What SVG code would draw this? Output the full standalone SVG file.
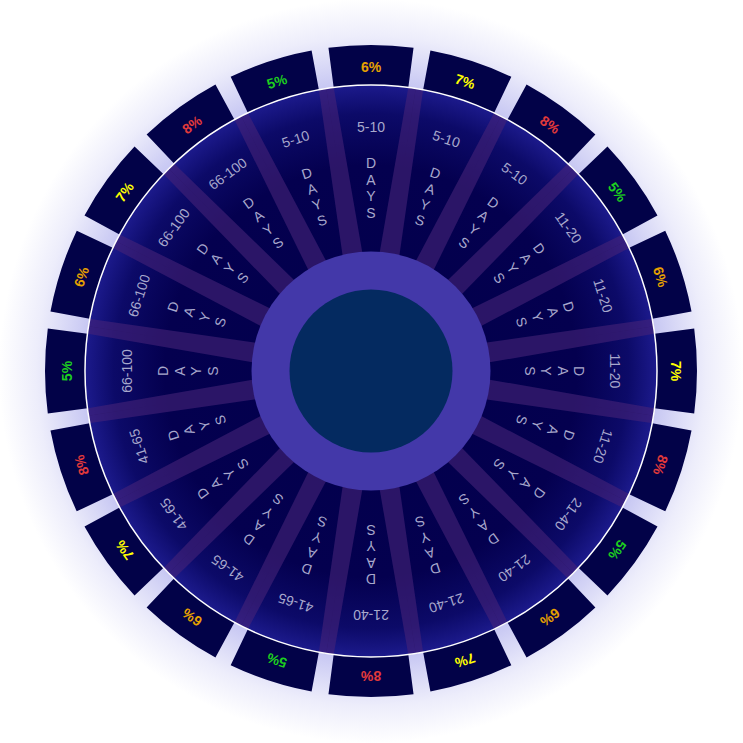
<svg xmlns="http://www.w3.org/2000/svg" width="743" height="743" viewBox="0 0 743 743">
<defs>
<radialGradient id="glow" cx="371" cy="371" r="372" gradientUnits="userSpaceOnUse">
<stop offset="0" stop-color="#b8b8f0"/>
<stop offset="0.76" stop-color="#c4c4f2"/>
<stop offset="0.82" stop-color="#d6d6f6"/>
<stop offset="0.9" stop-color="#ededfb"/>
<stop offset="1" stop-color="#ffffff"/>
</radialGradient>
<radialGradient id="wg" cx="371" cy="371" r="286" gradientUnits="userSpaceOnUse">
<stop offset="0" stop-color="#02004c"/>
<stop offset="0.72" stop-color="#04004f"/>
<stop offset="0.9" stop-color="#0c0a68"/>
<stop offset="1" stop-color="#1c1a8c"/>
</radialGradient>
<clipPath id="wheelClip"><circle cx="371" cy="371" r="286"/></clipPath>
<path id="tab" d="M328.45,47.8 A326,326 0 0 1 413.55,47.8 L407.8,91.4 A282,282 0 0 0 334.2,91.4 Z"/>
<path id="wedge" d="M371,371 L326.26,88.52 A286,286 0 0 1 415.74,88.52 Z"/>
<polygon id="stripe" points="361,254 381,254 378.5,84 363.5,84"/>
</defs>
<style>
.tab{fill:#020248}
.seg{fill:url(#wg)}
.stripe{fill:rgb(70,35,120);fill-opacity:0.6}
.lbl{font-family:"Liberation Sans",Arial,sans-serif;font-size:14px;fill:#a8a8cc;text-anchor:middle}
.pct{font-family:"Liberation Sans",Arial,sans-serif;font-size:14px;font-weight:bold;text-anchor:middle}
.p5{fill:#1ecf1e}.p6{fill:#e6a100}.p7{fill:#ffff00}.p8{fill:#e23a3a}
</style>
<rect width="743" height="743" fill="#ffffff"/>
<circle cx="371" cy="371" r="372" fill="url(#glow)"/>

<g id="tabs">
<g id="tab0" transform="rotate(0 371 371)"><use href="#tab" class="tab"/><text class="pct p6" x="371" y="71.5">6%</text></g>
<g id="tab1" transform="rotate(18 371 371)"><use href="#tab" class="tab"/><text class="pct p7" x="371" y="71.5">7%</text></g>
<g id="tab2" transform="rotate(36 371 371)"><use href="#tab" class="tab"/><text class="pct p8" x="371" y="71.5">8%</text></g>
<g id="tab3" transform="rotate(54 371 371)"><use href="#tab" class="tab"/><text class="pct p5" x="371" y="71.5">5%</text></g>
<g id="tab4" transform="rotate(72 371 371)"><use href="#tab" class="tab"/><text class="pct p6" x="371" y="71.5">6%</text></g>
<g id="tab5" transform="rotate(90 371 371)"><use href="#tab" class="tab"/><text class="pct p7" x="371" y="71.5">7%</text></g>
<g id="tab6" transform="rotate(108 371 371)"><use href="#tab" class="tab"/><text class="pct p8" x="371" y="71.5">8%</text></g>
<g id="tab7" transform="rotate(126 371 371)"><use href="#tab" class="tab"/><text class="pct p5" x="371" y="71.5">5%</text></g>
<g id="tab8" transform="rotate(144 371 371)"><use href="#tab" class="tab"/><text class="pct p6" x="371" y="71.5">6%</text></g>
<g id="tab9" transform="rotate(162 371 371)"><use href="#tab" class="tab"/><text class="pct p7" x="371" y="71.5">7%</text></g>
<g id="tab10" transform="rotate(180 371 371)"><use href="#tab" class="tab"/><text class="pct p8" x="371" y="71.5">8%</text></g>
<g id="tab11" transform="rotate(198 371 371)"><use href="#tab" class="tab"/><text class="pct p5" x="371" y="71.5">5%</text></g>
<g id="tab12" transform="rotate(216 371 371)"><use href="#tab" class="tab"/><text class="pct p6" x="371" y="71.5">6%</text></g>
<g id="tab13" transform="rotate(234 371 371)"><use href="#tab" class="tab"/><text class="pct p7" x="371" y="71.5">7%</text></g>
<g id="tab14" transform="rotate(252 371 371)"><use href="#tab" class="tab"/><text class="pct p8" x="371" y="71.5">8%</text></g>
<g id="tab15" transform="rotate(270 371 371)"><use href="#tab" class="tab"/><text class="pct p5" x="371" y="71.5">5%</text></g>
<g id="tab16" transform="rotate(288 371 371)"><use href="#tab" class="tab"/><text class="pct p6" x="371" y="71.5">6%</text></g>
<g id="tab17" transform="rotate(306 371 371)"><use href="#tab" class="tab"/><text class="pct p7" x="371" y="71.5">7%</text></g>
<g id="tab18" transform="rotate(324 371 371)"><use href="#tab" class="tab"/><text class="pct p8" x="371" y="71.5">8%</text></g>
<g id="tab19" transform="rotate(342 371 371)"><use href="#tab" class="tab"/><text class="pct p5" x="371" y="71.5">5%</text></g>
</g>

<circle cx="371" cy="371" r="286" fill="#04004f"/>

<g id="segments">
<g id="seg0" transform="rotate(0 371 371)"><use href="#wedge" class="seg"/><text class="lbl" x="371" y="132">5-10</text><text class="lbl" x="371" y="168">D</text><text class="lbl" x="371" y="184.5">A</text><text class="lbl" x="371" y="201">Y</text><text class="lbl" x="371" y="217.5">S</text></g>
<g id="seg1" transform="rotate(18 371 371)"><use href="#wedge" class="seg"/><text class="lbl" x="371" y="132">5-10</text><text class="lbl" x="371" y="168">D</text><text class="lbl" x="371" y="184.5">A</text><text class="lbl" x="371" y="201">Y</text><text class="lbl" x="371" y="217.5">S</text></g>
<g id="seg2" transform="rotate(36 371 371)"><use href="#wedge" class="seg"/><text class="lbl" x="371" y="132">5-10</text><text class="lbl" x="371" y="168">D</text><text class="lbl" x="371" y="184.5">A</text><text class="lbl" x="371" y="201">Y</text><text class="lbl" x="371" y="217.5">S</text></g>
<g id="seg3" transform="rotate(54 371 371)"><use href="#wedge" class="seg"/><text class="lbl" x="371" y="132">11-20</text><text class="lbl" x="371" y="168">D</text><text class="lbl" x="371" y="184.5">A</text><text class="lbl" x="371" y="201">Y</text><text class="lbl" x="371" y="217.5">S</text></g>
<g id="seg4" transform="rotate(72 371 371)"><use href="#wedge" class="seg"/><text class="lbl" x="371" y="132">11-20</text><text class="lbl" x="371" y="168">D</text><text class="lbl" x="371" y="184.5">A</text><text class="lbl" x="371" y="201">Y</text><text class="lbl" x="371" y="217.5">S</text></g>
<g id="seg5" transform="rotate(90 371 371)"><use href="#wedge" class="seg"/><text class="lbl" x="371" y="132">11-20</text><text class="lbl" x="371" y="168">D</text><text class="lbl" x="371" y="184.5">A</text><text class="lbl" x="371" y="201">Y</text><text class="lbl" x="371" y="217.5">S</text></g>
<g id="seg6" transform="rotate(108 371 371)"><use href="#wedge" class="seg"/><text class="lbl" x="371" y="132">11-20</text><text class="lbl" x="371" y="168">D</text><text class="lbl" x="371" y="184.5">A</text><text class="lbl" x="371" y="201">Y</text><text class="lbl" x="371" y="217.5">S</text></g>
<g id="seg7" transform="rotate(126 371 371)"><use href="#wedge" class="seg"/><text class="lbl" x="371" y="132">21-40</text><text class="lbl" x="371" y="168">D</text><text class="lbl" x="371" y="184.5">A</text><text class="lbl" x="371" y="201">Y</text><text class="lbl" x="371" y="217.5">S</text></g>
<g id="seg8" transform="rotate(144 371 371)"><use href="#wedge" class="seg"/><text class="lbl" x="371" y="132">21-40</text><text class="lbl" x="371" y="168">D</text><text class="lbl" x="371" y="184.5">A</text><text class="lbl" x="371" y="201">Y</text><text class="lbl" x="371" y="217.5">S</text></g>
<g id="seg9" transform="rotate(162 371 371)"><use href="#wedge" class="seg"/><text class="lbl" x="371" y="132">21-40</text><text class="lbl" x="371" y="168">D</text><text class="lbl" x="371" y="184.5">A</text><text class="lbl" x="371" y="201">Y</text><text class="lbl" x="371" y="217.5">S</text></g>
<g id="seg10" transform="rotate(180 371 371)"><use href="#wedge" class="seg"/><text class="lbl" x="371" y="132">21-40</text><text class="lbl" x="371" y="168">D</text><text class="lbl" x="371" y="184.5">A</text><text class="lbl" x="371" y="201">Y</text><text class="lbl" x="371" y="217.5">S</text></g>
<g id="seg11" transform="rotate(198 371 371)"><use href="#wedge" class="seg"/><text class="lbl" x="371" y="132">41-65</text><text class="lbl" x="371" y="168">D</text><text class="lbl" x="371" y="184.5">A</text><text class="lbl" x="371" y="201">Y</text><text class="lbl" x="371" y="217.5">S</text></g>
<g id="seg12" transform="rotate(216 371 371)"><use href="#wedge" class="seg"/><text class="lbl" x="371" y="132">41-65</text><text class="lbl" x="371" y="168">D</text><text class="lbl" x="371" y="184.5">A</text><text class="lbl" x="371" y="201">Y</text><text class="lbl" x="371" y="217.5">S</text></g>
<g id="seg13" transform="rotate(234 371 371)"><use href="#wedge" class="seg"/><text class="lbl" x="371" y="132">41-65</text><text class="lbl" x="371" y="168">D</text><text class="lbl" x="371" y="184.5">A</text><text class="lbl" x="371" y="201">Y</text><text class="lbl" x="371" y="217.5">S</text></g>
<g id="seg14" transform="rotate(252 371 371)"><use href="#wedge" class="seg"/><text class="lbl" x="371" y="132">41-65</text><text class="lbl" x="371" y="168">D</text><text class="lbl" x="371" y="184.5">A</text><text class="lbl" x="371" y="201">Y</text><text class="lbl" x="371" y="217.5">S</text></g>
<g id="seg15" transform="rotate(270 371 371)"><use href="#wedge" class="seg"/><text class="lbl" x="371" y="132">66-100</text><text class="lbl" x="371" y="168">D</text><text class="lbl" x="371" y="184.5">A</text><text class="lbl" x="371" y="201">Y</text><text class="lbl" x="371" y="217.5">S</text></g>
<g id="seg16" transform="rotate(288 371 371)"><use href="#wedge" class="seg"/><text class="lbl" x="371" y="132">66-100</text><text class="lbl" x="371" y="168">D</text><text class="lbl" x="371" y="184.5">A</text><text class="lbl" x="371" y="201">Y</text><text class="lbl" x="371" y="217.5">S</text></g>
<g id="seg17" transform="rotate(306 371 371)"><use href="#wedge" class="seg"/><text class="lbl" x="371" y="132">66-100</text><text class="lbl" x="371" y="168">D</text><text class="lbl" x="371" y="184.5">A</text><text class="lbl" x="371" y="201">Y</text><text class="lbl" x="371" y="217.5">S</text></g>
<g id="seg18" transform="rotate(324 371 371)"><use href="#wedge" class="seg"/><text class="lbl" x="371" y="132">66-100</text><text class="lbl" x="371" y="168">D</text><text class="lbl" x="371" y="184.5">A</text><text class="lbl" x="371" y="201">Y</text><text class="lbl" x="371" y="217.5">S</text></g>
<g id="seg19" transform="rotate(342 371 371)"><use href="#wedge" class="seg"/><text class="lbl" x="371" y="132">5-10</text><text class="lbl" x="371" y="168">D</text><text class="lbl" x="371" y="184.5">A</text><text class="lbl" x="371" y="201">Y</text><text class="lbl" x="371" y="217.5">S</text></g>
</g>

<g id="dividers" clip-path="url(#wheelClip)">
<use href="#stripe" class="stripe" transform="rotate(9 371 371)"/>
<use href="#stripe" class="stripe" transform="rotate(27 371 371)"/>
<use href="#stripe" class="stripe" transform="rotate(45 371 371)"/>
<use href="#stripe" class="stripe" transform="rotate(63 371 371)"/>
<use href="#stripe" class="stripe" transform="rotate(81 371 371)"/>
<use href="#stripe" class="stripe" transform="rotate(99 371 371)"/>
<use href="#stripe" class="stripe" transform="rotate(117 371 371)"/>
<use href="#stripe" class="stripe" transform="rotate(135 371 371)"/>
<use href="#stripe" class="stripe" transform="rotate(153 371 371)"/>
<use href="#stripe" class="stripe" transform="rotate(171 371 371)"/>
<use href="#stripe" class="stripe" transform="rotate(189 371 371)"/>
<use href="#stripe" class="stripe" transform="rotate(207 371 371)"/>
<use href="#stripe" class="stripe" transform="rotate(225 371 371)"/>
<use href="#stripe" class="stripe" transform="rotate(243 371 371)"/>
<use href="#stripe" class="stripe" transform="rotate(261 371 371)"/>
<use href="#stripe" class="stripe" transform="rotate(279 371 371)"/>
<use href="#stripe" class="stripe" transform="rotate(297 371 371)"/>
<use href="#stripe" class="stripe" transform="rotate(315 371 371)"/>
<use href="#stripe" class="stripe" transform="rotate(333 371 371)"/>
<use href="#stripe" class="stripe" transform="rotate(351 371 371)"/>
</g>

<circle id="rim" cx="371" cy="371" r="286" fill="none" stroke="#ffffff" stroke-width="1.5"/>

<g id="hub">
<circle cx="371" cy="371" r="119.5" fill="#4338a9"/>
<circle cx="371" cy="371" r="81.5" fill="#042a60"/>
</g>
</svg>
